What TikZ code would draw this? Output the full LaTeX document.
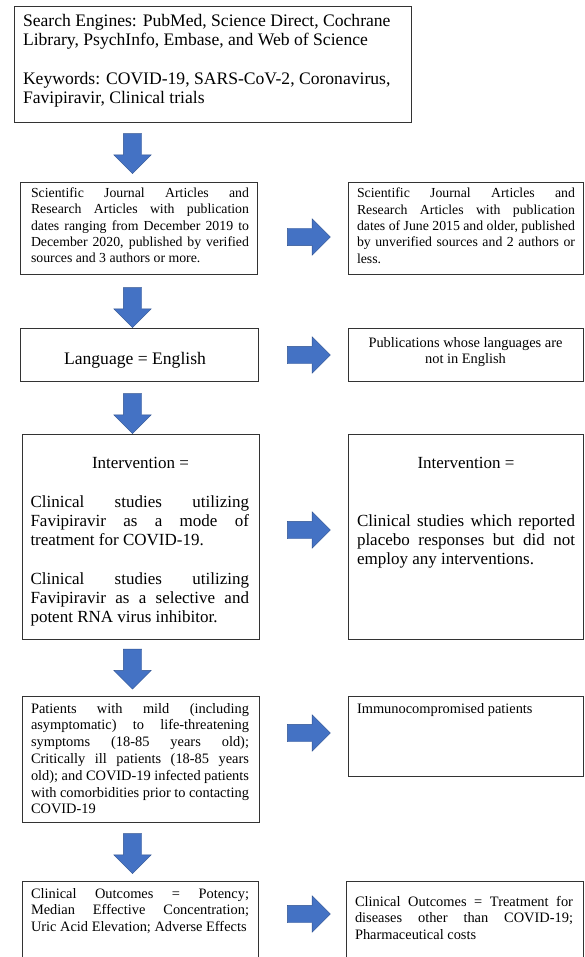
\documentclass[tikz,border=0pt]{standalone}
\usepackage{fontspec}
\setmainfont{Liberation Serif}
\usetikzlibrary{shapes.arrows}
\definecolor{arrowblue}{HTML}{4472C4}
\definecolor{arrowedge}{HTML}{2F528F}
\newcommand{\jline}[1]{\makebox[\linewidth][s]{#1}\\}
\begin{document}
\begin{tikzpicture}[x=1pt,y=-1pt,
  box/.style={draw=black!80, line width=0.9pt, rectangle, inner sep=0pt, outer sep=0pt, anchor=north west},
  txt/.style={anchor=base west, inner sep=0pt, outer sep=0pt},
  ctxt/.style={anchor=base, inner sep=0pt, outer sep=0pt},
  huge/.style={font=\fontsize{17.6}{19.3}\selectfont},
  big/.style={font=\fontsize{17}{19.3}\selectfont},
  small/.style={font=\fontsize{13.8}{16.3}\selectfont},
  smallb/.style={font=\fontsize{14.4}{16.8}\selectfont},
  blockarrow/.style={single arrow, fill=arrowblue, draw=arrowedge, line width=0.4pt,
    inner xsep=0pt, single arrow head indent=0pt},
  downarrow/.style={blockarrow, inner ysep=9pt, single arrow head extend=9.5pt,
    minimum height=40pt, rotate=-90},
  rightarrow/.style={blockarrow, inner ysep=8.5pt, single arrow head extend=9.5pt,
    minimum height=43pt}
]
\useasboundingbox (0,0) rectangle (584,957);
\clip (0,0) rectangle (584,957);

% ---------- boxes ----------
\node[box, minimum width=397pt, minimum height=116pt] (top) at (14,6) {};
\node[box, minimum width=237pt, minimum height=92pt] (b2L) at (20,182) {};
\node[box, minimum width=235pt, minimum height=92pt] (b2R) at (348,182) {};
\node[box, minimum width=238pt, minimum height=53pt] (langL) at (20,328) {};
\node[box, minimum width=235pt, minimum height=53pt] (langR) at (348,328) {};
\node[box, minimum width=237pt, minimum height=205pt] (intL) at (22,434) {};
\node[box, minimum width=235pt, minimum height=205pt] (intR) at (348,434) {};
\node[box, minimum width=237pt, minimum height=126pt] (patL) at (22,696) {};
\node[box, minimum width=235pt, minimum height=80pt] (immR) at (348,696) {};
\node[box, minimum width=236pt, minimum height=90pt] (outL) at (22,881) {};
\node[box, minimum width=237pt, minimum height=90pt] (outR) at (346,881) {};

% ---------- block arrows ----------
\node[downarrow] (d1) at (132.5,149) {};
\node[downarrow] (d2) at (132.5,303) {};
\node[downarrow] (d3) at (132.5,409) {};
\node[downarrow] (d4) at (132.5,664.5) {};
\node[downarrow] (d5) at (132.5,849) {};
\node[rightarrow] (r1) at (304.5,237) {};
\node[rightarrow] (r2) at (304.5,355) {};
\node[rightarrow] (r3) at (304.5,530) {};
\node[rightarrow] (r4) at (304.5,733) {};
\node[rightarrow] (r5) at (304.5,914) {};

% ---------- texts ----------
\node[txt, huge] (ttop) at (23,26.5) {\parbox[t]{385pt}{Search Engines: PubMed, Science Direct, Cochrane\\
Library, PsychInfo, Embase, and Web of Science\\[\baselineskip]
Keywords: COVID-19, SARS-CoV-2, Coronavirus,\\
Favipiravir, Clinical trials}};

\node[txt, small] (tb2L) at (31,197.5) {\parbox[t]{218pt}{%
\jline{Scientific Journal Articles and}
\jline{Research Articles with publication}
\jline{dates ranging from December 2019 to}
\jline{December 2020, published by verified}
sources and 3 authors or more.}};

\node[txt, small] (tb2R) at (357,198) {\parbox[t]{218pt}{%
\jline{Scientific Journal Articles and}
\jline{Research Articles with publication}
\jline{dates of June 2015 and older, published}
\jline{by unverified sources and 2 authors or}
less.}};

\node[ctxt, huge] (tlangL) at (135,364) {Language = English};

\node[ctxt, smallb] (tlangR) at (465.5,347) {\parbox[t]{218pt}{\centering
Publications whose languages are\\ not in English}};

\node[ctxt, big] (tintLh) at (140.5,468) {Intervention =};
\node[txt, big] (tintL) at (30.5,507) {\parbox[t]{218.5pt}{%
\jline{Clinical studies utilizing}
\jline{Favipiravir as a mode of}
treatment for COVID-19.\\[\baselineskip]
\jline{Clinical studies utilizing}
\jline{Favipiravir as a selective and}
potent RNA virus inhibitor.}};

\node[ctxt, big] (tintRh) at (466,468) {Intervention =};
\node[txt, big] (tintR) at (357,526) {\parbox[t]{218pt}{%
\jline{Clinical studies which reported}
\jline{placebo responses but did not}
employ any interventions.}};

\node[txt, smallb] (tpatL) at (31,713) {\parbox[t]{218pt}{%
\jline{Patients with mild (including}
\jline{asymptomatic) to life-threatening}
\jline{symptoms (18-85 years old);}
\jline{Critically ill patients (18-85 years}
\jline{old); and COVID-19 infected patients}
\jline{with comorbidities prior to contacting}
COVID-19}};

\node[txt, smallb] (timmR) at (357,713) {Immunocompromised patients};

\node[txt, smallb] (toutL) at (31,898) {\parbox[t]{218pt}{%
\jline{Clinical Outcomes = Potency;}
\jline{Median Effective Concentration;}
Uric Acid Elevation; Adverse Effects}};

\node[txt, smallb] (toutR) at (355,906) {\parbox[t]{218pt}{%
\jline{Clinical Outcomes = Treatment for}
\jline{diseases other than COVID-19;}
Pharmaceutical costs}};
\end{tikzpicture}
\end{document}
